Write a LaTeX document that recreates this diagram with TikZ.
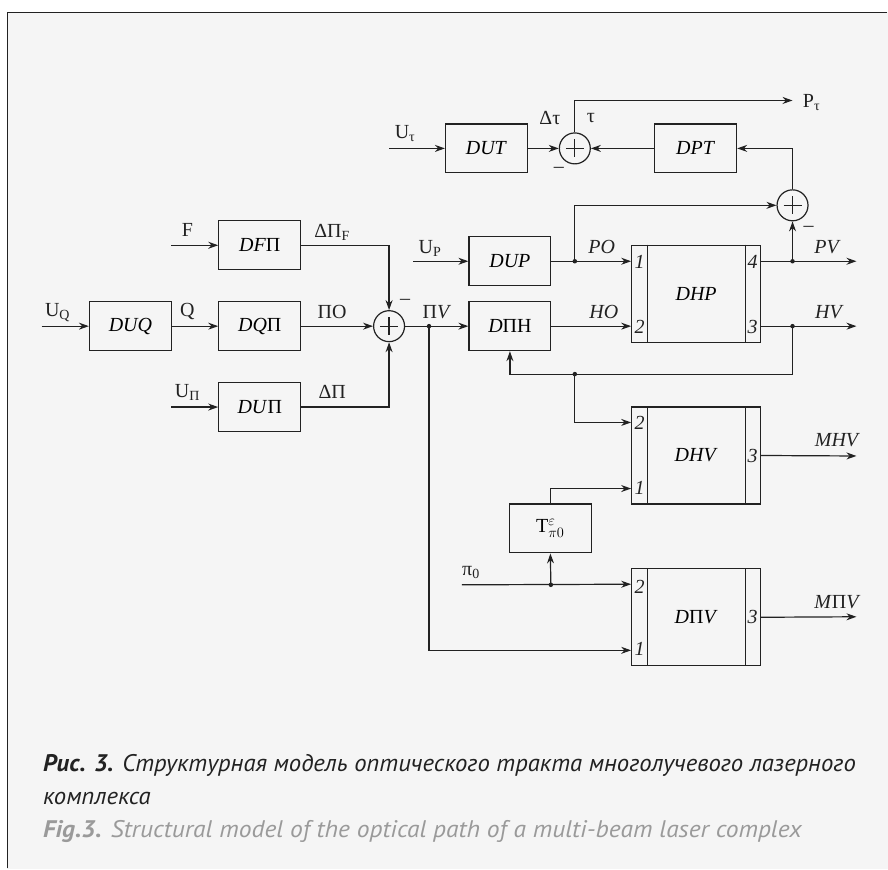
\documentclass[tikz,border=0pt]{standalone}
\usepackage{fontspec}
\setmainfont{Liberation Serif}
\newfontfamily\capfont{PT Sans}
\usetikzlibrary{arrows.meta}
\definecolor{bgc}{HTML}{F5F5F5}
\definecolor{ln}{HTML}{222222}
\definecolor{capgray}{HTML}{9A9A9A}
\begin{document}
\begin{tikzpicture}[x=1pt,y=-1pt,
  every path/.style={line width=1.2pt, draw=ln},
  arr/.style={-{Stealth[length=10pt,width=7pt]}},
  blk/.style={draw=ln, line width=1.2pt, minimum width=82pt, minimum height=49pt, inner sep=0pt, font=\fontsize{20}{23}\selectfont},
  big/.style={draw=ln, line width=1.2pt, minimum width=129pt, minimum height=97pt, inner sep=0pt, font=\fontsize{20}{23}\selectfont},
  sum/.style={draw=ln, circle, line width=1.2pt, minimum size=31pt, inner sep=0pt},
  lbl/.style={inner sep=0pt, font=\fontsize{20}{23}\selectfont, text=ln},
  port/.style={inner sep=0pt, font=\fontsize{20}{23}\selectfont\itshape, text=ln},
  dot/.style={circle, fill=ln, inner sep=0pt, minimum size=4.5pt},
  captxt/.style={inner sep=0pt, anchor=base west, font=\capfont\fontsize{24}{28}\selectfont\itshape}]
\useasboundingbox (0,0) rectangle (888,869);
\fill[white] (0,0) rectangle (888,869);
\fill[bgc] (7,12) rectangle (888,869);
\draw (7,869) -- (7,12) -- (888,12);

% blocks
\node[blk] (dut) at (486.5,148) {\textit{DUT}};
\node[blk] (dpt) at (696,148) {\textit{DPT}};
\node[sum] (s1) at (575,148) {};
\node[sum] (s2) at (793,205) {};
\node[sum] (s0) at (389,326) {};
\node[blk] (dfp) at (259.5,245) {\textit{DF}Π};
\node[blk] (duq) at (130,326) {\textit{DUQ}};
\node[blk] (dqp) at (259.5,326) {\textit{DQ}Π};
\node[blk] (dupi) at (259.5,407) {\textit{DU}Π};
\node[blk] (dup) at (510,261) {\textit{DUP}};
\node[blk] (dph) at (510,326) {\textit{D}ΠH};
\node[big] (dhp) at (696.5,293.5) {\textit{DHP}};
\node[big] (dhv) at (696.5,455.5) {\textit{DHV}};
\node[big] (dpv) at (696.5,617.5) {\textit{D}Π\textit{V}};
\node[blk] (tb) at (550.5,528.5) {$\mathrm{T}^{\varepsilon}_{\pi 0}$};

\foreach \n in {dhp,dhv,dpv}{
  \draw ([xshift=16pt]\n.north west) -- ([xshift=16pt]\n.south west);
  \draw ([xshift=-16pt]\n.north east) -- ([xshift=-16pt]\n.south east);
}
\foreach \s in {s0,s1,s2}{
  \draw (\s.center) ++(-9,0) -- ++(18,0);
  \draw (\s.center) ++(0,-9) -- ++(0,18);
}

% junctions and free ends
\node[dot] (jPO) at (575,261) {};
\node[dot] (jPV) at (793,261) {};
\node[dot] (jHV) at (793,326) {};
\node[dot] (jFB) at (575,374) {};
\node[dot] (jPiV) at (429,326) {};
\node[dot] (jpi0) at (551,585) {};
\coordinate (inUt) at (389,148);
\coordinate (outPt) at (793,100);
\coordinate (inF) at (171,245);
\coordinate (inUQ) at (41,326);
\coordinate (inUPi) at (171,407);
\coordinate (inUP) at (413,261);
\coordinate (outPV) at (857,261);
\coordinate (outHV) at (857,326);
\coordinate (outMHV) at (857,456);
\coordinate (outMPV) at (857,617);
\coordinate (inpi0) at (462,585);

% connectors
\draw[arr] (inUt) -- (dut);
\draw[arr] (dut) -- (s1);
\draw[arr] (dpt) -- (s1);
\draw[arr] (s1.north) |- (outPt);
\draw[arr] (s2.north) |- (dpt.east);
\draw[arr] (jPO.center) |- (s2.west);
\draw[arr] (jPV.center) -- (s2.south);
\draw[arr] (inUP) -- (dup);
\draw (dup) -- (jPO.center);
\draw[arr] (jPO.center) -- (dhp.west |- jPO);
\draw[arr] (dhp.east |- jPV) -- (outPV);
\draw[arr] (dhp.east |- jHV) -- (outHV);
\draw[arr] (jHV.center) |- (jFB.center) -| (dph.south);
\draw[arr] (jFB.center) |- ([yshift=-16pt]dhv.north west);
\draw[arr] (tb.north) |- ([yshift=16pt]dhv.south west);
\draw[arr] (inpi0) -- ([yshift=-16pt]dpv.north west);
\draw[arr] (jpi0.center) -- (tb.south);
\draw[arr] (jPiV.center) |- ([yshift=16pt]dpv.south west);
\draw[arr] (s0) -- (dph);
\draw[arr] (dph) -- (dhp.west |- dph);
\draw[arr] (dhv.east) -- (outMHV);
\draw[arr] (dpv.east) -- (outMPV);
\draw[arr] (inF) -- (dfp);
\draw[arr] (dfp) -| (s0.north);
\draw[arr] (inUQ) -- (duq);
\draw[arr] (duq) -- (dqp);
\draw[arr] (dqp) -- (s0);
\draw[arr] (inUPi) -- (dupi);
\draw[arr] (dupi) -| (s0.south);

% labels
\node[lbl] (lUt) at (405,133) {U\textsubscript{τ}};
\node[lbl] (lDt) at (550,118) {Δτ};
\node[lbl] (lt) at (591,118) {τ};
\node[lbl] (lPt) at (812,102) {P\textsubscript{τ}};
\node[lbl] (m1) at (559,170) {–};
\node[lbl] (lF) at (187,230) {F};
\node[lbl] (lDPF) at (332,232) {ΔΠ\textsubscript{F}};
\node[lbl] (lUQ) at (57,312) {U\textsubscript{Q}};
\node[lbl] (lQ) at (187,311) {Q};
\node[lbl] (lPO) at (332,312) {ΠO};
\node[lbl] (m0) at (405,302) {–};
\node[lbl] (lUPi) at (187,392) {U\textsubscript{Π}};
\node[lbl] (lDP) at (332,392) {ΔΠ};
\node[lbl] (lUP) at (430,248) {U\textsubscript{P}};
\node[lbl] (lRO) at (602,247) {\textit{PO}};
\node[lbl] (lPiV) at (437,312) {Π\textit{V}};
\node[lbl] (lHO) at (604,312) {\textit{HO}};
\node[lbl] (m2) at (809,229) {–};
\node[lbl] (lPV) at (828,247) {\textit{PV}};
\node[lbl] (lHV) at (830,312) {\textit{HV}};
\node[lbl] (lMHV) at (838,440) {\textit{MHV}};
\node[lbl] (lMPV) at (838,602) {\textit{M}Π\textit{V}};
\node[lbl] (lpi0) at (471,573) {π\textsubscript{0}};

% port numbers
\node[port] (p11) at (640,262) {1};
\node[port] (p12) at (640,327) {2};
\node[port] (p14) at (753,262) {4};
\node[port] (p13) at (753,327) {3};
\node[port] (p22) at (640,423) {2};
\node[port] (p21) at (640,488) {1};
\node[port] (p23) at (753,456) {3};
\node[port] (p32) at (640,587) {2};
\node[port] (p31) at (640,649) {1};
\node[port] (p33) at (753,617) {3};

% caption
\node[captxt, text=ln] (c1) at (42,772) {\scalebox{1.03}[1]{\textbf{Рис. 3.} Структурная модель оптического тракта многолучевого лазерного}};
\node[captxt, text=ln] (c2) at (42,805) {\scalebox{1.03}[1]{комплекса}};
\node[captxt, text=capgray] (c3) at (42,838) {\scalebox{1.065}[1]{\textbf{Fig.3.} Structural model of the optical path of a multi-beam laser complex}};
\end{tikzpicture}
\end{document}
